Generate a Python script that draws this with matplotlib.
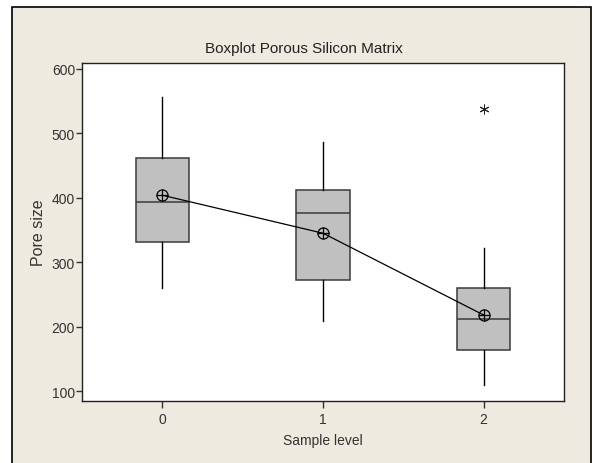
import matplotlib.pyplot as plt
from matplotlib.patches import Rectangle

levels = [0, 1, 2]
whisker_low = [260, 209, 110]
q1 = [332, 273, 164]
median = [393, 377, 212]
q3 = [462, 412, 260]
whisker_high = [557, 487, 322]
means = [404, 345, 218]
outliers = [[], [], [538]]

BG = "#eeeae0"
BOX = "#c0c0c0"

plt.rcParams["font.family"] = ["Liberation Sans", "DejaVu Sans"]

fig = plt.figure(figsize=(5.95, 4.64), dpi=100)
fig.patch.set_facecolor("white")
fig.patches.append(Rectangle((12 / 595, -0.05), 579 / 595, 1.05 - 8 / 464,
                             transform=fig.transFigure, facecolor=BG,
                             edgecolor="black", linewidth=1.2, zorder=-10))

ax = fig.add_axes([82 / 595, 1 - 402 / 464, 482 / 595, 338 / 464])
ax.set_facecolor("white")

stats = []
for i in range(len(levels)):
    stats.append({"whislo": whisker_low[i], "q1": q1[i], "med": median[i],
                  "q3": q3[i], "whishi": whisker_high[i], "fliers": outliers[i]})

ax.bxp(stats, positions=levels, widths=0.333, patch_artist=True,
       showcaps=False,
       boxprops=dict(facecolor=BOX, edgecolor="#3a3a3a", linewidth=1.1),
       medianprops=dict(color="#3a3a3a", linewidth=1.1),
       whiskerprops=dict(color="black", linewidth=1),
       flierprops=dict(marker=(6, 2, 0), markersize=7, markeredgecolor="#222222",
                       markeredgewidth=0.7, linestyle="none"))

ax.plot(levels, means, color="black", linewidth=0.9, zorder=4)
ax.plot(levels, means, "o", markersize=8, markerfacecolor="none",
        markeredgecolor="black", markeredgewidth=0.9, zorder=5)
ax.plot(levels, means, "+", markersize=8, markeredgecolor="black",
        markeredgewidth=0.9, zorder=5)

ax.set_xlim(-0.5, 2.5)
ax.set_ylim(84.5, 609.3)
ax.set_xticks(levels)
ax.set_xticklabels([str(v) for v in levels])
ax.set_yticks([100, 200, 300, 400, 500, 600])
ax.tick_params(axis="both", labelsize=10, colors="#333333", direction="out")
ax.tick_params(axis="y", length=4, width=1, pad=1)
ax.tick_params(axis="x", length=5, width=1, pad=3)
for s in ax.spines.values():
    s.set_color("#222222")
    s.set_linewidth(1)

ax.set_xlabel("Sample level", fontsize=10, color="#333333", labelpad=5)
ax.set_ylabel("Pore size", fontsize=11.5, color="#333333", labelpad=4)
fig.text(304 / 595, 1 - 49 / 464, "Boxplot Porous Silicon Matrix",
         ha="center", va="center", fontsize=11, color="#222222")

fig.savefig("out.png", dpi=100)
